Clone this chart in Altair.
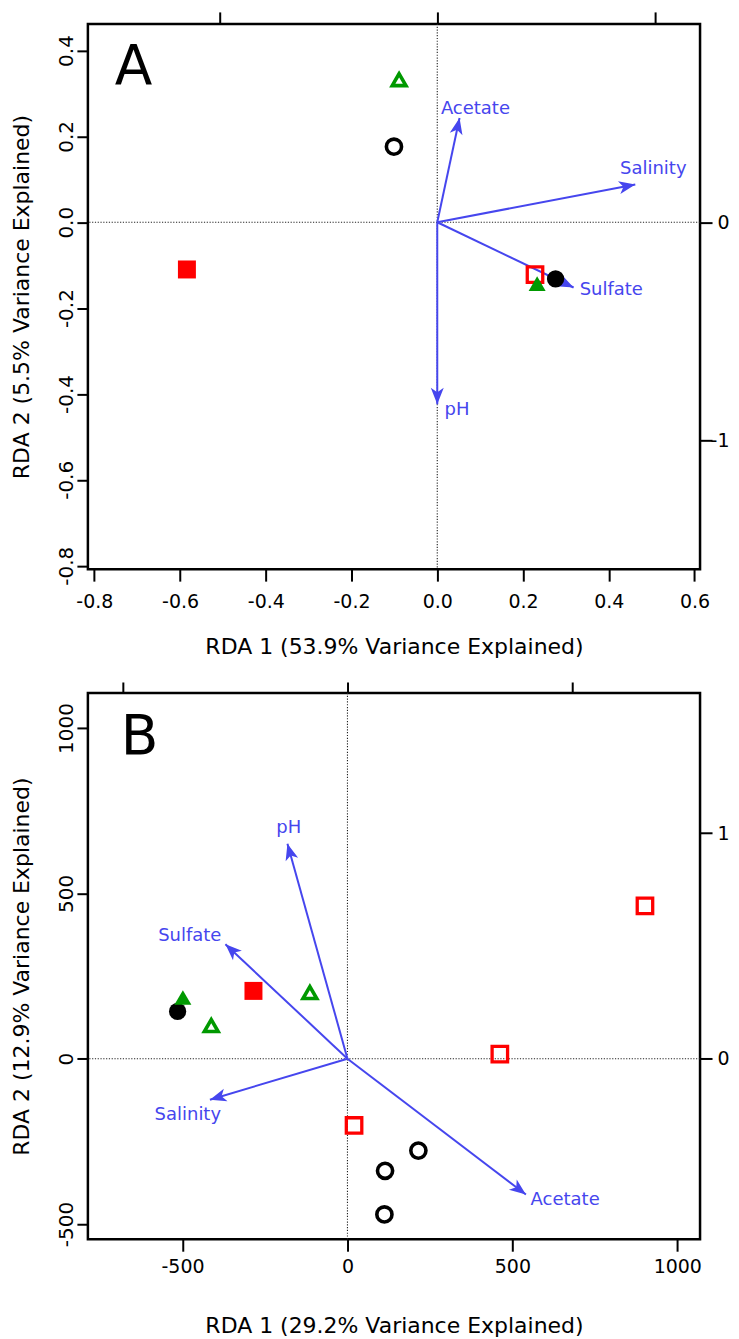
import altair as alt
import pandas as pd

# ---------------- Panel A data ----------------
A_site_x = [-0.089, -0.101, -0.584, 0.228, 0.276, 0.233]
A_site_y = [0.332, 0.176, -0.110, -0.122, -0.132, -0.143]
A_site_kind = ["tri_open", "circ_open", "sq_fill", "sq_open", "circ_fill", "tri_fill"]

A_var = ["Acetate", "Salinity", "Sulfate", "pH"]
A_arrow_x = [0.052, 0.462, 0.318, 0.000]
A_arrow_y = [0.243, 0.088, -0.152, -0.424]
A_label_x = [0.089, 0.504, 0.406, 0.046]
A_label_y = [0.264, 0.125, -0.157, -0.438]

A_x_ticks = [-0.8, -0.6, -0.4, -0.2, 0.0, 0.2, 0.4, 0.6]
A_y_ticks = [-0.8, -0.6, -0.4, -0.2, 0.0, 0.2, 0.4]
A_top_ticks = [-1, 0, 1]
A_right_ticks = [-1, 0]
A_x_domain = [-0.815, 0.613]
A_y_domain = [-0.808, 0.462]
A_sx_domain = [-1.607, 1.209]
A_sy_domain = [-1.593, 0.911]

# ---------------- Panel B data ----------------
B_site_x = [902, -285, -114, -499, -515, -413, 462, 20, 215, 114, 112]
B_site_y = [462, 205, 200, 185, 143, 100, 14, -202, -278, -339, -471]
B_site_kind = ["sq_open", "sq_fill", "tri_open", "tri_fill", "circ_fill", "tri_open",
               "sq_open", "sq_open", "circ_open", "circ_open", "circ_open"]

B_var = ["pH", "Sulfate", "Salinity", "Acetate"]
B_arrow_x = [-182, -370, -417, 541]
B_arrow_y = [650, 346, -124, -411]
B_label_x = [-178, -478, -484, 660]
B_label_y = [697, 371, -169, -428]

B_x_ticks = [-500, 0, 500, 1000]
B_y_ticks = [-500, 0, 500, 1000]
B_top_ticks = [-1, 0, 1]
B_right_ticks = [0, 1]
B_x_domain = [-787, 1069]
B_y_domain = [-546, 1106]
B_sx_domain = [-1.154, 1.567]
B_sy_domain = [-0.801, 1.622]

BLUE = "#4646EE"
GREEN = "#009900"
RED = "#FF0000"
FONT = "DejaVu Sans"
ARROW = "M0,0L-0.75,1.9L0,1.4L0.75,1.9Z"
MINUS_FIX = "replace(datum.label, '\u2212', '-')"

STYLE = {
    "sq_open": dict(shape="square", filled=False, color=RED, size=240, strokeWidth=3.3),
    "sq_fill": dict(shape="square", filled=True, color=RED, size=324, strokeWidth=0),
    "circ_open": dict(shape="circle", filled=False, color="black", size=230, strokeWidth=3.6),
    "circ_fill": dict(shape="circle", filled=True, color="black", size=300, strokeWidth=0),
    "tri_open": dict(shape="triangle-up", filled=False, color=GREEN, size=190, strokeWidth=3.6),
    "tri_fill": dict(shape="triangle-up", filled=True, color=GREEN, size=290, strokeWidth=0),
}
ORDER = ["sq_open", "sq_fill", "circ_open", "circ_fill", "tri_open", "tri_fill"]


def panel(site_x, site_y, site_kind, var, ax, ay, lx, ly,
          xdom, ydom, sxdom, sydom, xticks, yticks, top_ticks, right_ticks,
          xfmt, yfmt, xtitle, ytitle, letter, letter_xy, width, height,
          label_pad, title_y, top_tick):
    sites = pd.DataFrame({"x": site_x, "y": site_y, "kind": site_kind})
    arrows = pd.DataFrame({"var": var, "x": ax, "y": ay, "lx": lx, "ly": ly})

    xs = alt.Scale(domain=xdom, nice=False, zero=False)
    ys = alt.Scale(domain=ydom, nice=False, zero=False)
    x_axis = alt.Axis(values=xticks, format=xfmt, labelExpr=MINUS_FIX, title=xtitle,
                      orient="bottom", tickSize=12, labelPadding=label_pad,
                      labelFontSize=19, titleFontSize=22, titleX=width / 2,
                      titleY=title_y, titleAlign="center", titleBaseline="alphabetic",
                      labelOverlap=False, labelFlush=False, minExtent=0)
    y_axis = alt.Axis(values=yticks, format=yfmt, labelExpr=MINUS_FIX, title=ytitle,
                      orient="left", tickSize=11, labelPadding=4, labelAngle=270,
                      labelAlign="center", labelBaseline="alphabetic", labelFontSize=20,
                      titleFontSize=22, titleAngle=270, titleX=-59, titleY=height / 2,
                      titleAlign="center", titleBaseline="alphabetic",
                      labelOverlap=False, labelFlush=False, minExtent=0)

    def X(f):
        return alt.X(f, type="quantitative", scale=xs, axis=x_axis)

    def Y(f):
        return alt.Y(f, type="quantitative", scale=ys, axis=y_axis)

    zero_df = pd.DataFrame({"z": [0]})
    hline = alt.Chart(zero_df).mark_rule(color="#222222", strokeWidth=1.1,
                                         strokeDash=[1.2, 1.6]).encode(y=Y("z"))
    vline = alt.Chart(zero_df).mark_rule(color="#222222", strokeWidth=1.1,
                                         strokeDash=[1.2, 1.6]).encode(x=X("z"))

    base_arrow = alt.Chart(arrows).transform_calculate(
        x0="0", y0="0",
        ang="(atan2(datum.x, datum.y) * 180 / PI + 360) % 360")
    shafts = base_arrow.mark_rule(color=BLUE, strokeWidth=2).encode(
        x=X("x0"), y=Y("y0"), x2="x:Q", y2="y:Q")
    heads = base_arrow.mark_point(shape=ARROW, filled=True, color=BLUE, size=300,
                                  strokeWidth=0, opacity=1).encode(
        x=X("x"), y=Y("y"), angle=alt.Angle("ang:Q", scale=None))
    labels = alt.Chart(arrows).mark_text(color=BLUE, fontSize=18, font=FONT,
                                         align="center", baseline="middle").encode(
        x=X("lx"), y=Y("ly"), text="var:N")

    site_layers = []
    for k in ORDER:
        if k not in site_kind:
            continue
        st = STYLE[k]
        site_layers.append(
            alt.Chart(sites).transform_filter(alt.datum.kind == k).mark_point(
                shape=st["shape"], filled=st["filled"], color=st["color"],
                size=st["size"], strokeWidth=st["strokeWidth"], opacity=1
            ).encode(x=X("x"), y=Y("y"))
        )

    letter_mark = alt.Chart(pd.DataFrame({"t": [letter]})).mark_text(
        fontSize=55, font=FONT, align="left", baseline="alphabetic", color="black"
    ).encode(x=alt.value(letter_xy[0]), y=alt.value(letter_xy[1]), text="t:N")

    primary = alt.layer(hline, vline, shafts, heads, *site_layers, labels, letter_mark)

    top_layer = alt.Chart(pd.DataFrame({"t": top_ticks})).mark_point(opacity=0).encode(
        x=alt.X("t:Q", scale=alt.Scale(domain=sxdom, nice=False, zero=False),
                axis=alt.Axis(values=top_ticks, orient="top", labels=False, title=None,
                              tickSize=top_tick, minExtent=0)))
    right_layer = alt.Chart(pd.DataFrame({"r": right_ticks})).mark_point(opacity=0).encode(
        y=alt.Y("r:Q", scale=alt.Scale(domain=sydom, nice=False, zero=False),
                axis=alt.Axis(values=right_ticks, orient="right", format="d",
                              labelExpr=MINUS_FIX, title=None, tickSize=12,
                              labelPadding=17, labelFontSize=19, labelAlign="right",
                              labelBaseline="middle", labelOverlap=False,
                              minExtent=0)))

    return alt.layer(primary, top_layer, right_layer).resolve_scale(
        x="independent", y="independent").properties(width=width, height=height)


panelA = panel(A_site_x, A_site_y, A_site_kind, A_var, A_arrow_x, A_arrow_y,
               A_label_x, A_label_y, A_x_domain, A_y_domain, A_sx_domain, A_sy_domain,
               A_x_ticks, A_y_ticks, A_top_ticks, A_right_ticks, ".1f", ".1f",
               "RDA 1 (53.9% Variance Explained)", "RDA 2 (5.5% Variance Explained)",
               "A", (27, 60), 613, 546, 11, 84, 12)

panelB = panel(B_site_x, B_site_y, B_site_kind, B_var, B_arrow_x, B_arrow_y,
               B_label_x, B_label_y, B_x_domain, B_y_domain, B_sx_domain, B_sy_domain,
               B_x_ticks, B_y_ticks, B_top_ticks, B_right_ticks, "d", "d",
               "RDA 1 (29.2% Variance Explained)", "RDA 2 (12.9% Variance Explained)",
               "B", (33, 61), 613, 547, 6, 93, 11)

chart = alt.vconcat(panelA, panelB, spacing=20).properties(
    padding={"left": 1, "top": 0, "right": 0, "bottom": 0}
).configure(font=FONT).configure_view(
    stroke="black", strokeWidth=2.5
).configure_axis(
    grid=False, domain=False, tickColor="black", tickWidth=2,
    labelColor="black", titleColor="black", titleFontWeight="normal",
    labelFont=FONT, titleFont=FONT
)

chart.save("out.html", embed_options={"renderer": "svg", "actions": False})
